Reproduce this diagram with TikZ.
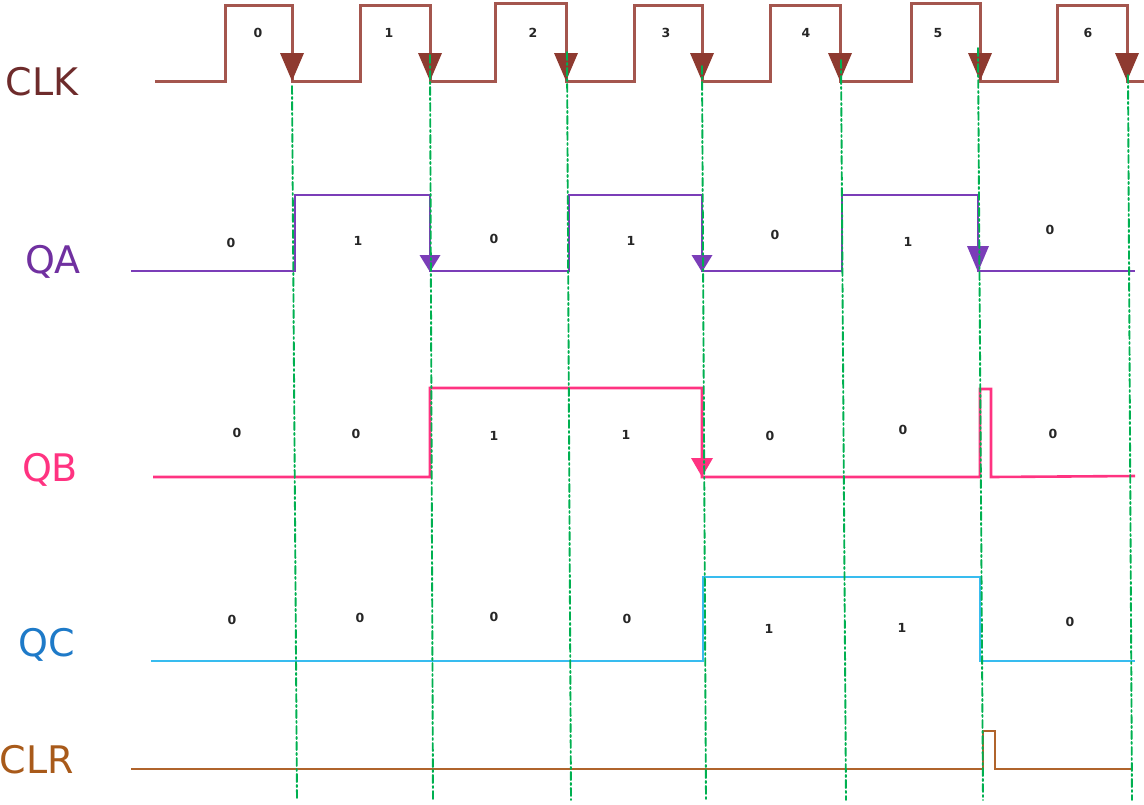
\documentclass[tikz,border=0pt]{standalone}
\usepackage{fontspec}
\setmainfont{DejaVu Sans}
\usetikzlibrary{arrows.meta}
\definecolor{clkline}{HTML}{A4564E}
\definecolor{clkhead}{HTML}{8E3A30}
\definecolor{clklabel}{HTML}{6E2B2B}
\definecolor{qapurple}{HTML}{7B3DB8}
\definecolor{qalabel}{HTML}{7030A0}
\definecolor{qbpink}{HTML}{FF3381}
\definecolor{qclight}{HTML}{38BCEF}
\definecolor{qclabel}{HTML}{1E7AC8}
\definecolor{clrbrown}{HTML}{B0642C}
\definecolor{clrlabel}{HTML}{A85A1A}
\definecolor{edgegreen}{HTML}{00B050}
\tikzset{
	wave/.style={line width=2.6pt, line join=miter, line cap=butt},
	edgeline/.style={edgegreen, line width=1.9pt, dash pattern=on 8pt off 3pt on 2pt off 3pt},
	bit/.style={font=\fontsize{12.5}{12.5}\selectfont\bfseries, text=black!85, inner sep=0pt},
	sig/.style={font=\fontsize{38}{38}\selectfont, inner sep=0pt}
}
\begin{document}
\begin{tikzpicture}[x=1pt, y=-1pt, line join=round, line cap=round]
	\useasboundingbox (0,0) rectangle (1144,804);
	% signal names
	\node[sig, text=clklabel] (clk) at (42,82) {CLK};
	\node[sig, text=qalabel] (qa) at (53,262) {QA};
	\node[sig, text=qbpink] (qb) at (50,470) {QB};
	\node[sig, text=qclabel] (qc) at (47,645) {QC};
	\node[sig, text=clrlabel] (clr) at (37,760) {CLR};
	% waveforms
	\draw[wave, clkline, line width=3pt] (155,81) -| (225,5) -| (292,81) -| (360,5) -| (430,81)
		-| (495,3) -| (566,81) -| (634,5) -| (702,81) -| (770,5) -| (840,81)
		-| (911,3) -| (980,81) -| (1057,5) -| (1127,81) -- (1144,81);
	\draw[wave, qapurple] (131,271) -| (295,195) -| (430,271) -| (569,195) -| (702,271)
		-| (842,195) -| (978,271) -- (1135,271);
	\draw[wave, qbpink] (153,477) -| (430,388) -| (702,477) -| (980,389) -| (991,477) -- (1135,476);
	\draw[wave, qclight] (151,661) -| (703,577) -| (980,661) -- (1135,661);
	\draw[wave, clrbrown] (131,769) -| (983,731) -| (995,769) -- (1132,769);
	% falling-edge heads
	\foreach \x in {292,430,566,702,840,980,1127}
	\fill[clkhead] (\x,81) -- ++(-12,-28) -- ++(24,0) -- cycle;
	\foreach \x/\w/\h in {430/21/17, 702/21/17, 978/22/26}
	\fill[qapurple] (\x,272) -- ++(-\w/2,-\h) -- ++(\w,0) -- cycle;
	\fill[qbpink] (702,477) -- ++(-11,-19) -- ++(22,0) -- cycle;
	% counts
	\foreach \x/\t [count=\i] in {258/0, 389/1, 533/2, 666/3, 806/4, 938/5, 1088/6}
	\node[bit] (c\i) at (\x,33) {\t};
	\foreach \x/\y/\t [count=\i] in {231/243/0, 358/241/1, 494/239/0, 631/241/1, 775/235/0, 908/242/1, 1050/230/0}
	\node[bit] (a\i) at (\x,\y) {\t};
	\foreach \x/\y/\t [count=\i] in {237/433/0, 356/434/0, 494/436/1, 626/435/1, 770/436/0, 903/430/0, 1053/434/0}
	\node[bit] (b\i) at (\x,\y) {\t};
	\foreach \x/\y/\t [count=\i] in {232/620/0, 360/618/0, 494/617/0, 627/619/0, 769/629/1, 902/628/1, 1070/622/0}
	\node[bit] (q\i) at (\x,\y) {\t};
	% clock edges
	\foreach \a/\b/\t in {292/297/86, 430/433/55, 567/571/52, 702/706/66, 841/846/60, 978/983/48, 1128/1132/75}
	\draw[edgeline] (\a,\t) -- (\b,800);
\end{tikzpicture}
\end{document}
